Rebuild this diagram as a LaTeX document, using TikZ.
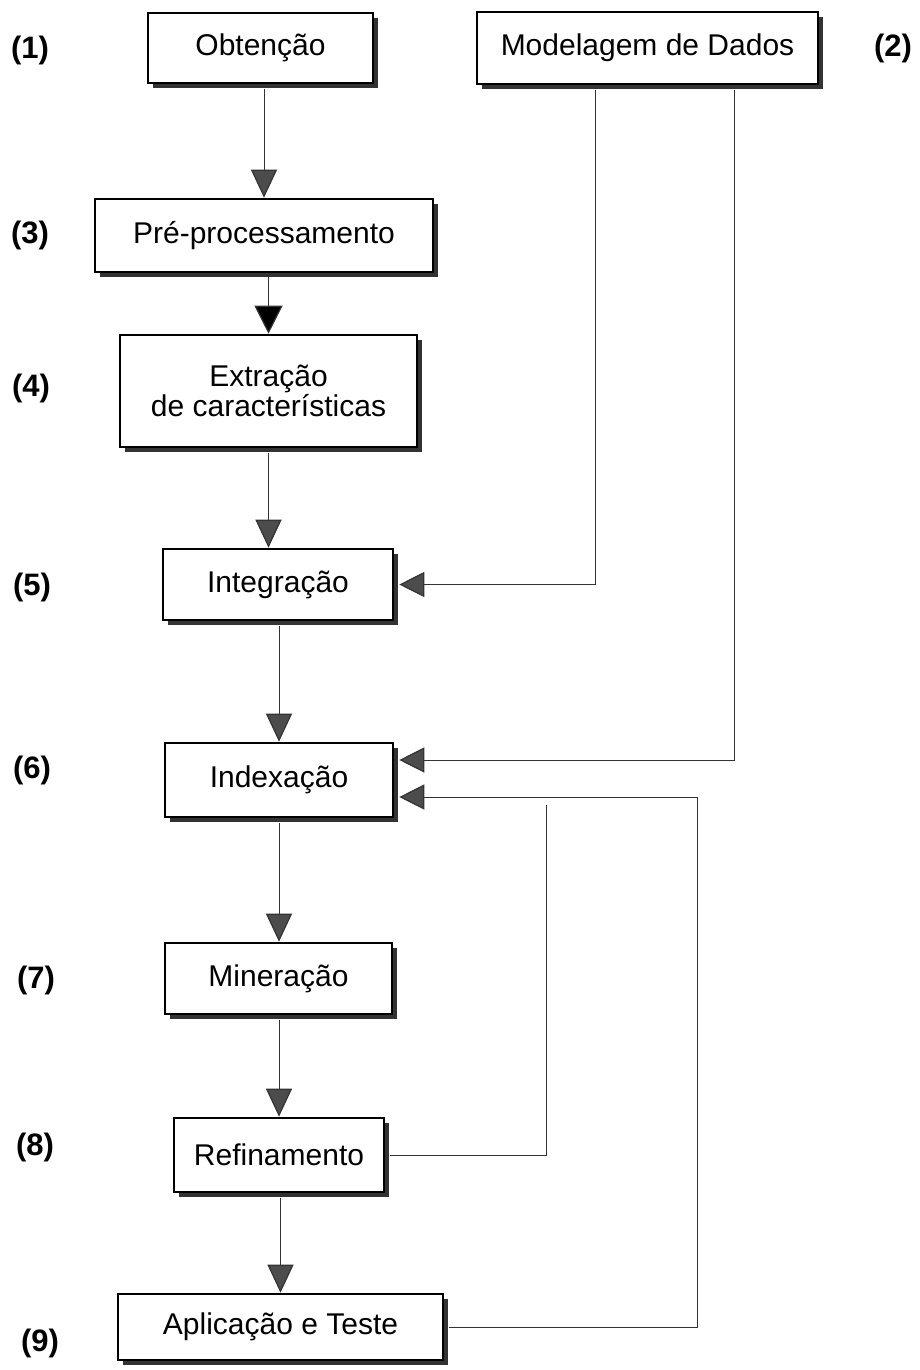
\documentclass[tikz,border=0pt]{standalone}
\usepackage{fontspec}
\setmainfont{Liberation Sans}
\usetikzlibrary{arrows.meta,shadows}
\begin{document}
\begin{tikzpicture}[x=1pt,y=-1pt,
  box/.style={draw=black, line width=2.6pt, fill=white, inner sep=0pt, align=center,
    font=\fontsize{30}{28}\selectfont,
    general shadow={shadow xshift=5pt, shadow yshift=-5pt, fill=black!80}},
  lbl/.style={font=\fontsize{31}{31}\selectfont\bfseries},
  conn/.style={draw=black!80, line width=0.9pt},
  downtip/.style={-{Triangle[width=26pt,length=28pt,fill=black!70,line width=1.2pt]}},
  blacktip/.style={-{Triangle[width=28pt,length=28pt,fill=black,line width=1.2pt]}},
  lefttip/.style={-{Triangle[width=25pt,length=25pt,fill=black!70,line width=1.2pt]}}
]
\useasboundingbox (0,0) rectangle (920,1370);

% boxes
\node[box, minimum width=225pt, minimum height=70pt] (obt) at (260.5,48) {Obtenção};
\node[box, minimum width=341pt, minimum height=72pt] (mod) at (647.5,48) {Modelagem de Dados};
\node[box, minimum width=338pt, minimum height=73pt] (pre) at (264,235.5) {Pré-processamento};
\node[box, minimum width=297pt, minimum height=112pt] (ext) at (268.5,391) {Extração\\de características};
\node[box, minimum width=230pt, minimum height=71pt] (int) at (278,584.5) {Integração};
\node[box, minimum width=228pt, minimum height=74pt] (idx) at (279,780) {Indexação};
\node[box, minimum width=227pt, minimum height=71pt] (min) at (278.5,978.5) {Mineração};
\node[box, minimum width=210pt, minimum height=74pt] (ref) at (279,1155) {Refinamento};
\node[box, minimum width=325pt, minimum height=66pt] (apl) at (280.5,1327) {Aplicação e Teste};

% labels
\node[lbl] (l1) at (30,50) {(1)};
\node[lbl] (l2) at (893,48) {(2)};
\node[lbl] (l3) at (30,235) {(3)};
\node[lbl] (l4) at (31,388) {(4)};
\node[lbl] (l5) at (32,587) {(5)};
\node[lbl] (l6) at (32,770) {(6)};
\node[lbl] (l7) at (36,980) {(7)};
\node[lbl] (l8) at (35,1147) {(8)};
\node[lbl] (l9) at (40,1343) {(9)};

% main flow
\draw[conn, downtip] ([yshift=-5pt]obt.south -| pre.north) -- (pre.north);
\draw[conn, blacktip] ([yshift=-3pt]pre.south -| ext.north) -- (ext.north);
\draw[conn, downtip] ([yshift=-5pt]ext.south) -- (ext.south |- int.north);
\draw[conn, downtip] ([yshift=-5pt]int.south -| idx.north) -- (idx.north);
\draw[conn, downtip] ([yshift=-5pt]idx.south) -- (idx.south |- min.north);
\draw[conn, downtip] ([yshift=-5pt]min.south -| ref.north) -- (ref.north);
\draw[conn, downtip] ([yshift=-5pt]ref.south -| apl.north) -- (apl.north);

% from Modelagem de Dados
\draw[conn, lefttip] ([xshift=-52.5pt,yshift=-5pt]mod.south) |- ([xshift=5pt]int.east);
\draw[conn, lefttip] ([xshift=86.5pt,yshift=-5pt]mod.south) |- ([xshift=5pt,yshift=20pt]idx.east);

% feedback lines
\coordinate (refEnd) at (546,805);
\draw[conn] ([xshift=5pt]ref.east) -| (refEnd);
\coordinate (aplTurn) at (697,797);
\draw[conn, lefttip] ([xshift=5pt]apl.east) -| (aplTurn) -- ([xshift=5pt,yshift=-17pt]idx.east);
\end{tikzpicture}
\end{document}
